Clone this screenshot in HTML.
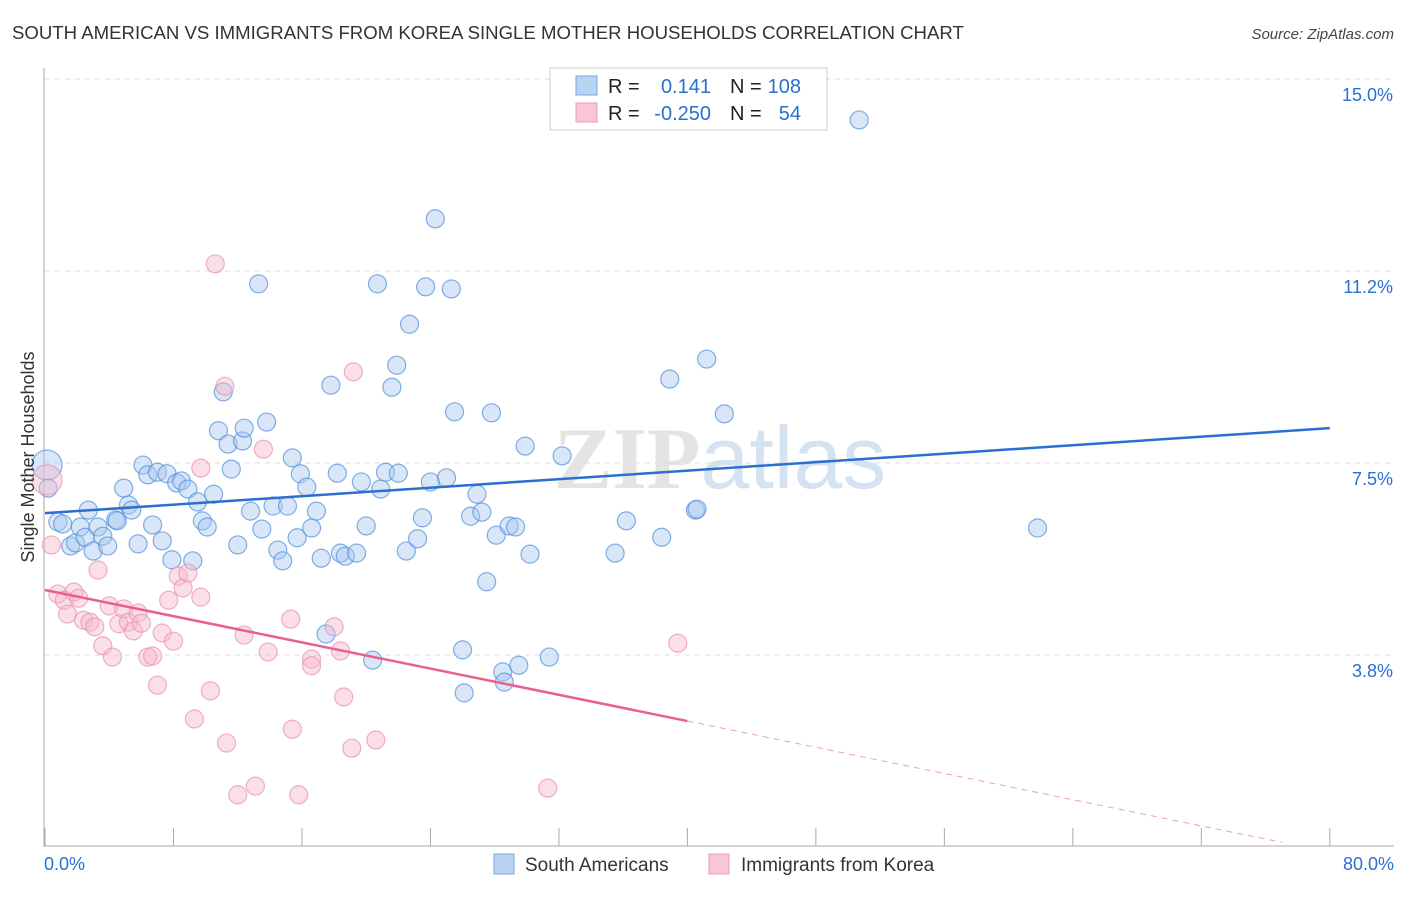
<!DOCTYPE html>
<html><head><meta charset="utf-8"><style>
body{margin:0;background:#fff;font-family:"Liberation Sans",sans-serif}
</style></head><body>
<svg id="c" width="1406" height="892" xmlns="http://www.w3.org/2000/svg" style="font-family:'Liberation Sans',sans-serif">
<text x="12" y="39" font-size="18.6" fill="#333">SOUTH AMERICAN VS IMMIGRANTS FROM KOREA SINGLE MOTHER HOUSEHOLDS CORRELATION CHART</text>
<text x="1394" y="39" font-size="15" fill="#444" text-anchor="end" font-style="italic">Source: ZipAtlas.com</text>
<text x="720" y="488" font-size="88" text-anchor="middle" fill="#e4e4e4" font-family="Liberation Serif" font-weight="bold">ZIP<tspan fill="#d4e2f2" font-family="Liberation Sans" font-weight="normal">atlas</tspan></text>
<g id="grid"></g><g id="axes"></g><g id="marks"></g>
<text transform="translate(34,457) rotate(-90)" font-size="18" fill="#333" text-anchor="middle">Single Mother Households</text>
<g>
<rect x="550" y="68" width="277" height="62" fill="#fff" stroke="#ccc"/>
<rect x="576" y="76" width="21" height="19" fill="#b9d3f3" stroke="#7aa6e0"/>
<rect x="576" y="103" width="21" height="19" fill="#f9c6d6" stroke="#ec9ab4"/>
<text x="608" y="93" font-size="20" fill="#222">R =</text><text x="711" y="93" font-size="20" fill="#2a6fd1" text-anchor="end">0.141</text>
<text x="730" y="93" font-size="20" fill="#222">N =</text><text x="801" y="93" font-size="20" fill="#2a6fd1" text-anchor="end">108</text>
<text x="608" y="120" font-size="20" fill="#222">R =</text><text x="711" y="120" font-size="20" fill="#2a6fd1" text-anchor="end">-0.250</text>
<text x="730" y="120" font-size="20" fill="#222">N =</text><text x="801" y="120" font-size="20" fill="#2a6fd1" text-anchor="end">54</text>
</g>
<g>
<rect x="494" y="854" width="20" height="20" fill="#b9d3f3" stroke="#7aa6e0"/>
<text x="525" y="871" font-size="19" fill="#333">South Americans</text>
<rect x="709" y="854" width="20" height="20" fill="#f9c6d6" stroke="#ec9ab4"/>
<text x="741" y="871" font-size="19" fill="#333">Immigrants from Korea</text>
</g>
</svg>
<script>
const xTicks=[0,8,16,24,32,40,48,56,64,72,80];
const yTicks=[3.75,7.5,11.25,15];
const yTickLabels=["3.8%","7.5%","11.2%","15.0%"];
const xEndLabels=["0.0%","80.0%"];
const blueX=[0.0,0.2,0.8,1.1,1.6,1.9,2.2,2.5,2.7,3.0,3.3,3.6,3.9,4.4,4.5,4.9,5.2,5.4,5.8,6.1,6.4,6.7,7.0,7.3,7.6,7.9,8.2,8.5,8.9,9.2,9.5,9.8,10.1,10.5,10.8,11.1,11.4,11.6,12.0,12.3,12.4,12.8,13.3,13.5,13.8,14.2,14.5,14.8,15.1,15.4,15.7,15.9,16.3,16.6,16.9,17.2,17.5,17.8,18.2,18.4,18.7,19.4,19.7,20.0,20.4,20.7,20.9,21.2,21.6,21.9,22.0,22.5,22.7,23.2,23.5,23.7,24.0,24.3,25.0,25.3,25.5,26.0,26.1,26.5,26.9,27.2,27.5,27.8,28.1,28.5,28.6,28.9,29.3,29.5,29.9,30.2,31.4,32.2,35.5,36.2,38.4,38.9,40.5,40.6,41.2,42.3,50.7,61.8];
const blueY=[7.46,7.01,6.35,6.31,5.88,5.94,6.25,6.05,6.58,5.78,6.25,6.07,5.88,6.39,6.37,7.01,6.68,6.58,5.92,7.46,7.27,6.29,7.32,5.98,7.29,5.61,7.11,7.15,6.99,5.59,6.74,6.37,6.25,6.89,8.13,8.89,7.87,7.38,5.90,7.93,8.18,6.56,11.00,6.21,8.30,6.66,5.80,5.59,6.66,7.60,6.04,7.29,7.03,6.23,6.56,5.64,4.16,9.02,7.30,5.74,5.68,5.74,7.13,6.27,3.65,11.00,6.99,7.32,8.98,9.41,7.30,5.78,10.21,6.02,6.43,10.94,7.13,12.27,7.21,10.90,8.50,3.85,3.01,6.46,6.89,6.54,5.18,8.48,6.09,3.42,3.22,6.27,6.25,3.55,7.83,5.72,3.71,7.64,5.74,6.37,6.05,9.14,6.58,6.60,9.53,8.46,14.20,6.23];
const pinkX=[0.0,0.4,0.8,1.2,1.4,1.8,2.1,2.4,2.8,3.1,3.3,3.6,4.0,4.2,4.6,4.9,5.2,5.5,5.8,6.0,6.4,6.7,7.0,7.3,7.7,8.0,8.3,8.6,8.9,9.3,9.7,9.7,10.3,10.6,11.2,11.3,12.0,12.4,13.1,13.6,13.9,15.3,15.4,15.8,16.6,16.6,18.0,18.4,18.6,19.1,19.2,20.6,31.3,39.4];
const pinkY=[7.17,5.90,4.94,4.82,4.55,4.98,4.86,4.43,4.39,4.30,5.41,3.93,4.71,3.71,4.36,4.65,4.39,4.22,4.57,4.37,3.71,3.73,3.16,4.18,4.82,4.02,5.29,5.06,5.35,2.50,4.88,7.40,3.05,11.39,9.00,2.03,1.02,4.14,1.19,7.77,3.81,4.45,2.30,1.02,3.67,3.54,4.30,3.83,2.93,1.93,9.28,2.09,1.15,3.98];
const blueTrend=[6.52,8.18];
const pinkTrend=[5.02,-0.1];
const pinkSolidEnd=40;
const X=v=>45+v*16.06, Y=v=>847-v*51.2;
const NS="http://www.w3.org/2000/svg";
function mk(tag,attrs,parent){const e=document.createElementNS(NS,tag);for(const k in attrs)e.setAttribute(k,attrs[k]);document.getElementById(parent).appendChild(e);return e;}
yTicks.forEach((t,i)=>{
 const l=mk('line',{x1:45,x2:1394,y1:Y(t),y2:Y(t),stroke:'#ddd','stroke-dasharray':'5,5'},'grid');
 
 
 const tx=mk('text',{x:1393,y:Y(t)+22,'font-size':18,fill:'#2a6fd1','text-anchor':'end'},'axes');
 tx.textContent=yTickLabels[i];
 
 
});
const ax=mk('line',{x1:44,x2:44,y1:68,y2:847,stroke:'#aaa'},'axes');


const bx=mk('line',{x1:44,x2:1394,y1:846,y2:846,stroke:'#aaa'},'axes');


xTicks.forEach(t=>{
 const l=mk('line',{x1:X(t),x2:X(t),y1:828,y2:846,stroke:'#aaa'},'axes');
 
 
});
[[0,'start',44],[80,'end',1394]].forEach((p,i)=>{
 const tx=mk('text',{x:p[2],y:870,'font-size':18,fill:'#2a6fd1','text-anchor':p[1]},'axes');
 tx.textContent=xEndLabels[i];
 
 
});
function dots(xs,ys,fill,stroke,name){
 xs.forEach((x,i)=>{
  const c=mk('circle',{cx:X(x)+(i===0?2:0),cy:Y(ys[i]),r:i===0?15:9,fill:fill,'fill-opacity':0.45,stroke:stroke,'stroke-opacity':0.7,'stroke-width':1.2},'marks');
  
  
 });
}
dots(blueX,blueY,'#a9c8f0','#4f8ddb','south-american-point');
dots(pinkX,pinkY,'#f7b9cc','#e890ac','korea-immigrant-point');
const bl=mk('line',{x1:X(0),y1:Y(blueTrend[0]),x2:X(80),y2:Y(blueTrend[1]),stroke:'#2a6fd1','stroke-width':2.5},'marks');


const pAt=x=>pinkTrend[0]+(pinkTrend[1]-pinkTrend[0])*x/80;
const pl=mk('line',{x1:X(0),y1:Y(pAt(0)),x2:X(pinkSolidEnd),y2:Y(pAt(pinkSolidEnd)),stroke:'#e8608c','stroke-width':2.5},'marks');


const pd=mk('line',{x1:X(pinkSolidEnd),y1:Y(pAt(pinkSolidEnd)),x2:X(77),y2:Y(pAt(77)),stroke:'#e8a0b8','stroke-width':1,'stroke-dasharray':'6,5'},'marks');


</script>
</body></html>
